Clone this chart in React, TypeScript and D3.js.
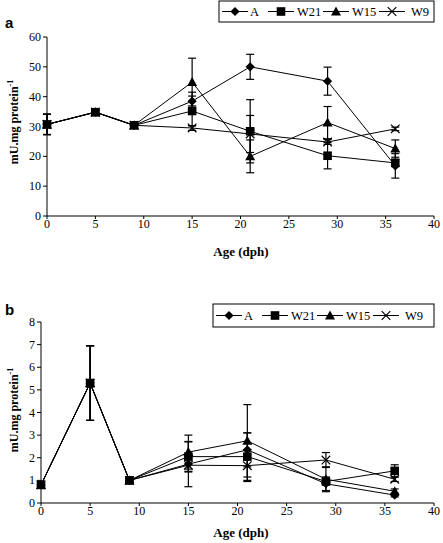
import React from "react";
import * as d3 from "d3";

const days = [0, 5, 9, 15, 21, 29, 36];
const seriesNames = ["A", "W21", "W15", "W9"];

// Panel a values
const aA = [30.7, 34.8, 30.4, 38.5, 50.0, 45.2, 16.8];
const aW21 = [30.7, 34.8, 30.4, 35.2, 28.4, 20.2, 17.8];
const aW15 = [30.7, 34.8, 30.4, 44.9, 20.0, 31.3, 22.6];
const aW9 = [30.7, 34.8, 30.4, 29.5, 27.5, 24.8, 29.2];
const aErrA = [3.4, 0.6, 0.6, 3.0, 4.2, 4.7, 4.1];
const aErrW21 = [3.4, 0.6, 0.6, 5.0, 10.6, 4.4, 1.2];
const aErrW15 = [3.4, 0.6, 0.6, 8.0, 5.5, 5.4, 2.9];
const aErrW9 = [3.4, 0.6, 0.6, 0.8, 6.2, 0.8, 0.6];
const aYTicks = [0, 10, 20, 30, 40, 50, 60];

// Panel b values
const bA = [0.8, 5.3, 1.0, 1.72, 2.35, 0.85, 0.35];
const bW21 = [0.8, 5.3, 1.0, 2.05, 2.05, 0.95, 1.42];
const bW15 = [0.8, 5.3, 1.0, 2.25, 2.75, 1.05, 0.52];
const bW9 = [0.8, 5.3, 1.0, 1.67, 1.65, 1.9, 1.05];
const bErrA = [0.1, 1.65, 0.08, 1.0, 0.75, 0.3, 0.08];
const bErrW21 = [0.1, 1.65, 0.08, 0.65, 1.05, 0.1, 0.27];
const bErrW15 = [0.1, 1.65, 0.08, 0.75, 1.6, 0.55, 0.1];
const bErrW9 = [0.1, 1.65, 0.08, 0.3, 0.7, 0.33, 0.1];
const bYTicks = [0, 1, 2, 3, 4, 5, 6, 7, 8];

const xTicks = [0, 5, 10, 15, 20, 25, 30, 35, 40];

const FONT = "'Times New Roman', 'Liberation Serif', Times, serif";

function Marker({ kind, x, y }: { kind: string; x: number; y: number }) {
  if (kind === "A") {
    const s = 4.6;
    return <path d={`M${x},${y - s}L${x + s},${y}L${x},${y + s}L${x - s},${y}Z`} fill="#000" />;
  }
  if (kind === "W21") {
    const s = 4.3;
    return <rect x={x - s} y={y - s} width={2 * s} height={2 * s} fill="#000" />;
  }
  if (kind === "W15") {
    const s = 5;
    return <path d={`M${x},${y - s}L${x + s},${y + s * 0.8}L${x - s},${y + s * 0.8}Z`} fill="#000" />;
  }
  const s = 4.3;
  return (
    <path d={`M${x - s},${y - s}L${x + s},${y + s}M${x - s},${y + s}L${x + s},${y - s}`} stroke="#000" strokeWidth={1.2} fill="none" />
  );
}

type PanelProps = {
  label: string;
  x0: number;
  yTop: number;
  yBot: number;
  yMax: number;
  yTicks: number[];
  series: number[][];
  errs: number[][];
  legend: { x1: number; y1: number; x2: number; y2: number };
  labelY: number;
  yLabelCenter: number;
  titleOffset: number;
};

function Panel(p: PanelProps) {
  const x = d3.scaleLinear().domain([0, 40]).range([p.x0, 434]);
  const y = d3.scaleLinear().domain([0, p.yMax]).range([p.yBot, p.yTop]);
  const line = d3
    .line<number>()
    .x((_, i) => x(days[i]))
    .y((d) => y(d));
  const drawOrder = [0, 2, 3, 1];
  const lg = p.legend;
  const lgItems = [
    { name: "A", lx: lg.x1 + 3, tx: lg.x1 + 31 },
    { name: "W21", lx: lg.x1 + 49, tx: lg.x1 + 78 },
    { name: "W15", lx: lg.x1 + 104, tx: lg.x1 + 133 },
    { name: "W9", lx: lg.x1 + 160, tx: lg.x1 + 192 },
  ];
  const lgY = (lg.y1 + lg.y2) / 2;
  return (
    <g>
      <text x={5} y={p.labelY} fontFamily="Arial, 'Liberation Sans', sans-serif" fontWeight="bold" fontSize={15}>
        {p.label}
      </text>
      {/* legend */}
      <rect x={lg.x1} y={lg.y1} width={lg.x2 - lg.x1} height={lg.y2 - lg.y1} fill="#fff" stroke="#000" strokeWidth={1} />
      {lgItems.map((it) => (
        <g key={it.name}>
          <line x1={it.lx} x2={it.lx + 26} y1={lgY} y2={lgY} stroke="#000" strokeWidth={1} />
          <Marker kind={it.name} x={it.lx + 13} y={lgY} />
          <text x={it.tx} y={lgY + 4.5} fontFamily={FONT} fontSize={12.5}>
            {it.name}
          </text>
        </g>
      ))}
      {/* axes */}
      <line x1={p.x0} x2={p.x0} y1={p.yTop} y2={p.yBot} stroke="#000" strokeWidth={1} />
      <line x1={p.x0} x2={434} y1={p.yBot} y2={p.yBot} stroke="#000" strokeWidth={1} />
      {p.yTicks.map((t) => (
        <g key={t}>
          <line x1={p.x0 - 4} x2={p.x0} y1={y(t)} y2={y(t)} stroke="#000" />
          <text x={p.x0 - 6} y={y(t) + 4} textAnchor="end" fontFamily={FONT} fontSize={12}>
            {t}
          </text>
        </g>
      ))}
      {xTicks.map((t) => (
        <g key={t}>
          <line x1={x(t)} x2={x(t)} y1={p.yBot} y2={p.yBot + 3} stroke="#000" />
          <text x={x(t)} y={p.yBot + 12} textAnchor="middle" fontFamily={FONT} fontSize={12}>
            {t}
          </text>
        </g>
      ))}
      <text x={241} y={p.yBot + p.titleOffset} textAnchor="middle" fontFamily={FONT} fontWeight="bold" fontSize={13}>
        Age (dph)
      </text>
      <text
        transform={`translate(18,${p.yLabelCenter}) rotate(-90)`}
        textAnchor="middle"
        fontFamily={FONT}
        fontWeight="bold"
        fontSize={12}
      >
        mU.mg protein
        <tspan dy={-5} fontSize={8}>
          -1
        </tspan>
      </text>
      {/* error bars */}
      {p.series.map((s, si) =>
        s.map((v, i) => {
          const e = p.errs[si][i];
          const cx = x(days[i]);
          return (
            <g key={`e${si}-${i}`} stroke="#000" strokeWidth={1.2}>
              <line x1={cx} x2={cx} y1={y(v + e)} y2={y(v - e)} />
              <line x1={cx - 4} x2={cx + 4} y1={y(v + e)} y2={y(v + e)} />
              <line x1={cx - 4} x2={cx + 4} y1={y(v - e)} y2={y(v - e)} />
            </g>
          );
        })
      )}
      {/* lines */}
      {p.series.map((s, si) => (
        <path key={`l${si}`} d={line(s) || ""} fill="none" stroke="#000" strokeWidth={1} />
      ))}
      {/* markers */}
      {drawOrder.map((si) =>
        p.series[si].map((v, i) => <Marker key={`m${si}-${i}`} kind={seriesNames[si]} x={x(days[i])} y={y(v)} />)
      )}
    </g>
  );
}

export default function App() {
  return (
    <svg width={443} height={543} style={{ position: "absolute", left: 0, top: 0, background: "#fff" }}>
      <rect width={443} height={543} fill="#fff" />
      <Panel
        label="a"
        x0={47}
        yTop={37}
        yBot={216}
        yMax={60}
        yTicks={aYTicks}
        series={[aA, aW21, aW15, aW9]}
        errs={[aErrA, aErrW21, aErrW15, aErrW9]}
        legend={{ x1: 219, y1: 1, x2: 434, y2: 22 }}
        labelY={28}
        yLabelCenter={122}
        titleOffset={40}
      />
      <Panel
        label="b"
        x0={41}
        yTop={322}
        yBot={503}
        yMax={8}
        yTicks={bYTicks}
        series={[bA, bW21, bW15, bW9]}
        errs={[bErrA, bErrW21, bErrW15, bErrW9]}
        legend={{ x1: 213, y1: 304, x2: 434, y2: 327 }}
        labelY={315}
        yLabelCenter={410}
        titleOffset={34}
      />
    </svg>
  );
}
